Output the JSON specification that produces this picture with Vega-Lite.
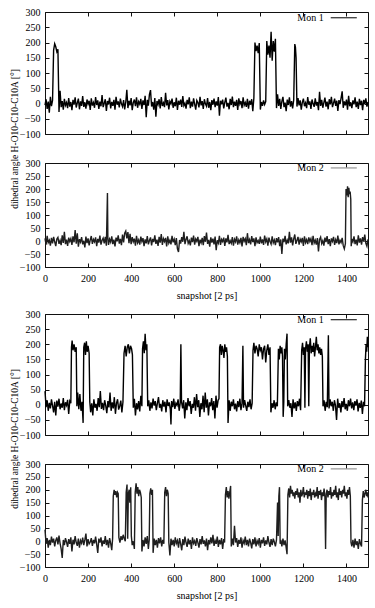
{
"$schema": "https://vega.github.io/schema/vega-lite/v6.json",
"padding": {"left": 8, "top": 6, "right": 2, "bottom": 2},
"background": "white",
"config": {
  "view": {"stroke": "#111", "strokeWidth": 1},
  "axis": {"domain": false, "grid": false, "tickColor": "#111", "tickSize": -4, "labelFont": "Liberation Serif", "labelFontSize": 10, "labelColor": "#000", "labelFlush": false, "format": "d", "titleFont": "Liberation Serif", "titleFontSize": 10, "titleFontWeight": "normal", "titleColor": "#000", "titleLimit": 400},
  "axisX": {"labelPadding": 10, "titlePadding": 7},
  "axisY": {"labelPadding": 9}
},
"datasets": {
"m1a": [{"x":0,"y":-5},{"x":5,"y":14},{"x":10,"y":-18},{"x":15,"y":6},{"x":20,"y":-30},{"x":25,"y":22},{"x":30,"y":-9},{"x":35,"y":10},{"x":40,"y":175},{"x":45,"y":196},{"x":50,"y":186},{"x":55,"y":170},{"x":60,"y":178},{"x":65,"y":-28},{"x":70,"y":42},{"x":75,"y":-12},{"x":80,"y":8},{"x":85,"y":-20},{"x":90,"y":15},{"x":95,"y":-6},{"x":100,"y":3},{"x":105,"y":-15},{"x":110,"y":18},{"x":115,"y":-10},{"x":120,"y":5},{"x":125,"y":-22},{"x":130,"y":12},{"x":135,"y":-4},{"x":140,"y":20},{"x":145,"y":-13},{"x":150,"y":2},{"x":155,"y":16},{"x":160,"y":-19},{"x":165,"y":7},{"x":170,"y":-8},{"x":175,"y":24},{"x":180,"y":-11},{"x":185,"y":4},{"x":190,"y":-17},{"x":195,"y":13},{"x":200,"y":-2},{"x":205,"y":9},{"x":210,"y":-21},{"x":215,"y":17},{"x":220,"y":-7},{"x":225,"y":3},{"x":230,"y":-14},{"x":235,"y":21},{"x":240,"y":-5},{"x":245,"y":10},{"x":250,"y":-18},{"x":255,"y":6},{"x":260,"y":-9},{"x":265,"y":28},{"x":270,"y":-12},{"x":275,"y":1},{"x":280,"y":14},{"x":285,"y":-24},{"x":290,"y":8},{"x":295,"y":-3},{"x":300,"y":19},{"x":305,"y":-16},{"x":310,"y":5},{"x":315,"y":-8},{"x":320,"y":12},{"x":325,"y":-20},{"x":330,"y":22},{"x":335,"y":-4},{"x":340,"y":7},{"x":345,"y":-13},{"x":350,"y":16},{"x":355,"y":-1},{"x":360,"y":-10},{"x":365,"y":11},{"x":370,"y":-19},{"x":375,"y":4},{"x":380,"y":45},{"x":385,"y":-15},{"x":390,"y":9},{"x":395,"y":-6},{"x":400,"y":18},{"x":405,"y":-22},{"x":410,"y":3},{"x":415,"y":13},{"x":420,"y":-9},{"x":425,"y":20},{"x":430,"y":-14},{"x":435,"y":6},{"x":440,"y":-2},{"x":445,"y":15},{"x":450,"y":-18},{"x":455,"y":10},{"x":460,"y":-5},{"x":465,"y":25},{"x":470,"y":-45},{"x":475,"y":12},{"x":480,"y":-7},{"x":485,"y":30},{"x":490,"y":44},{"x":495,"y":-10},{"x":500,"y":5},{"x":505,"y":-20},{"x":510,"y":18},{"x":515,"y":-43},{"x":520,"y":8},{"x":525,"y":-3},{"x":530,"y":14},{"x":535,"y":-16},{"x":540,"y":21},{"x":545,"y":-8},{"x":550,"y":2},{"x":555,"y":-12},{"x":560,"y":35},{"x":565,"y":-6},{"x":570,"y":11},{"x":575,"y":-19},{"x":580,"y":7},{"x":585,"y":-1},{"x":590,"y":16},{"x":595,"y":-14},{"x":600,"y":4},{"x":605,"y":-9},{"x":610,"y":19},{"x":615,"y":-21},{"x":620,"y":9},{"x":625,"y":-4},{"x":630,"y":13},{"x":635,"y":-11},{"x":640,"y":24},{"x":645,"y":-7},{"x":650,"y":1},{"x":655,"y":-17},{"x":660,"y":12},{"x":665,"y":-3},{"x":670,"y":20},{"x":675,"y":-15},{"x":680,"y":6},{"x":685,"y":-10},{"x":690,"y":17},{"x":695,"y":-2},{"x":700,"y":-20},{"x":705,"y":10},{"x":710,"y":3},{"x":715,"y":-13},{"x":720,"y":22},{"x":725,"y":-6},{"x":730,"y":8},{"x":735,"y":-18},{"x":740,"y":14},{"x":745,"y":-1},{"x":750,"y":-9},{"x":755,"y":18},{"x":760,"y":-14},{"x":765,"y":5},{"x":770,"y":-22},{"x":775,"y":11},{"x":780,"y":-4},{"x":785,"y":16},{"x":790,"y":-12},{"x":795,"y":7},{"x":800,"y":-7},{"x":805,"y":21},{"x":810,"y":-40},{"x":815,"y":9},{"x":820,"y":-3},{"x":825,"y":13},{"x":830,"y":-16},{"x":835,"y":4},{"x":840,"y":19},{"x":845,"y":-10},{"x":850,"y":2},{"x":855,"y":-19},{"x":860,"y":15},{"x":865,"y":-5},{"x":870,"y":23},{"x":875,"y":-12},{"x":880,"y":6},{"x":885,"y":-8},{"x":890,"y":12},{"x":895,"y":-21},{"x":900,"y":17},{"x":905,"y":-2},{"x":910,"y":8},{"x":915,"y":-15},{"x":920,"y":20},{"x":925,"y":-6},{"x":930,"y":3},{"x":935,"y":-11},{"x":940,"y":15},{"x":945,"y":-17},{"x":950,"y":9},{"x":955,"y":-4},{"x":960,"y":14},{"x":965,"y":-25},{"x":970,"y":18},{"x":975,"y":200},{"x":980,"y":172},{"x":985,"y":190},{"x":990,"y":165},{"x":995,"y":198},{"x":1000,"y":-20},{"x":1005,"y":5},{"x":1010,"y":-8},{"x":1015,"y":10},{"x":1020,"y":-3},{"x":1025,"y":6},{"x":1030,"y":205},{"x":1035,"y":160},{"x":1040,"y":190},{"x":1045,"y":150},{"x":1050,"y":235},{"x":1055,"y":140},{"x":1060,"y":205},{"x":1065,"y":170},{"x":1070,"y":212},{"x":1075,"y":-15},{"x":1080,"y":30},{"x":1085,"y":-8},{"x":1090,"y":15},{"x":1095,"y":-18},{"x":1100,"y":7},{"x":1105,"y":22},{"x":1110,"y":-12},{"x":1115,"y":3},{"x":1120,"y":-25},{"x":1125,"y":13},{"x":1130,"y":-5},{"x":1135,"y":20},{"x":1140,"y":-10},{"x":1145,"y":8},{"x":1150,"y":-16},{"x":1155,"y":12},{"x":1160,"y":195},{"x":1163,"y":185},{"x":1166,"y":150},{"x":1170,"y":-10},{"x":1175,"y":18},{"x":1180,"y":-6},{"x":1185,"y":10},{"x":1190,"y":-20},{"x":1195,"y":4},{"x":1200,"y":16},{"x":1205,"y":-9},{"x":1210,"y":2},{"x":1215,"y":-15},{"x":1220,"y":21},{"x":1225,"y":-4},{"x":1230,"y":7},{"x":1235,"y":-18},{"x":1240,"y":13},{"x":1245,"y":-1},{"x":1250,"y":-11},{"x":1255,"y":17},{"x":1260,"y":-7},{"x":1265,"y":5},{"x":1270,"y":-22},{"x":1275,"y":38},{"x":1280,"y":-8},{"x":1285,"y":12},{"x":1290,"y":-14},{"x":1295,"y":3},{"x":1300,"y":19},{"x":1305,"y":-10},{"x":1310,"y":6},{"x":1315,"y":-19},{"x":1320,"y":14},{"x":1325,"y":-3},{"x":1330,"y":22},{"x":1335,"y":-12},{"x":1340,"y":1},{"x":1345,"y":16},{"x":1350,"y":-8},{"x":1355,"y":9},{"x":1360,"y":-24},{"x":1365,"y":11},{"x":1370,"y":-2},{"x":1375,"y":18},{"x":1380,"y":40},{"x":1385,"y":-14},{"x":1390,"y":7},{"x":1395,"y":-6},{"x":1400,"y":13},{"x":1405,"y":-20},{"x":1410,"y":25},{"x":1415,"y":-9},{"x":1420,"y":4},{"x":1425,"y":-15},{"x":1430,"y":10},{"x":1435,"y":-3},{"x":1440,"y":20},{"x":1445,"y":-12},{"x":1450,"y":6},{"x":1455,"y":-18},{"x":1460,"y":15},{"x":1465,"y":-5},{"x":1470,"y":9},{"x":1475,"y":-22},{"x":1480,"y":12},{"x":1485,"y":-1},{"x":1490,"y":17},{"x":1495,"y":-10},{"x":1500,"y":5}],
"m2a": [{"x":0,"y":10},{"x":5,"y":-14},{"x":10,"y":20},{"x":15,"y":-6},{"x":20,"y":3},{"x":25,"y":-18},{"x":30,"y":12},{"x":35,"y":-9},{"x":40,"y":16},{"x":45,"y":-3},{"x":50,"y":-20},{"x":55,"y":8},{"x":60,"y":14},{"x":65,"y":-11},{"x":70,"y":2},{"x":75,"y":-16},{"x":80,"y":22},{"x":85,"y":-7},{"x":90,"y":35},{"x":95,"y":-12},{"x":100,"y":5},{"x":105,"y":-19},{"x":110,"y":13},{"x":115,"y":-2},{"x":120,"y":9},{"x":125,"y":-15},{"x":130,"y":18},{"x":135,"y":-5},{"x":140,"y":42},{"x":145,"y":-10},{"x":150,"y":30},{"x":155,"y":-22},{"x":160,"y":7},{"x":165,"y":-4},{"x":170,"y":15},{"x":175,"y":-13},{"x":180,"y":1},{"x":185,"y":-25},{"x":190,"y":17},{"x":195,"y":-8},{"x":200,"y":10},{"x":205,"y":-17},{"x":210,"y":4},{"x":215,"y":19},{"x":220,"y":-11},{"x":225,"y":6},{"x":230,"y":-3},{"x":235,"y":14},{"x":240,"y":-20},{"x":245,"y":8},{"x":250,"y":-6},{"x":255,"y":21},{"x":260,"y":-14},{"x":265,"y":3},{"x":270,"y":11},{"x":275,"y":-9},{"x":280,"y":16},{"x":285,"y":-18},{"x":290,"y":185},{"x":292,"y":10},{"x":295,"y":-15},{"x":300,"y":7},{"x":305,"y":-4},{"x":310,"y":18},{"x":315,"y":-12},{"x":320,"y":5},{"x":325,"y":-21},{"x":330,"y":13},{"x":335,"y":-1},{"x":340,"y":22},{"x":345,"y":-10},{"x":350,"y":8},{"x":355,"y":-16},{"x":360,"y":25},{"x":365,"y":-5},{"x":370,"y":30},{"x":375,"y":38},{"x":380,"y":10},{"x":385,"y":34},{"x":390,"y":-8},{"x":395,"y":28},{"x":400,"y":-12},{"x":405,"y":15},{"x":410,"y":-3},{"x":415,"y":9},{"x":420,"y":-18},{"x":425,"y":20},{"x":430,"y":-7},{"x":435,"y":4},{"x":440,"y":-14},{"x":445,"y":17},{"x":450,"y":-2},{"x":455,"y":11},{"x":460,"y":-20},{"x":465,"y":6},{"x":470,"y":-9},{"x":475,"y":19},{"x":480,"y":-13},{"x":485,"y":2},{"x":490,"y":14},{"x":495,"y":-17},{"x":500,"y":8},{"x":505,"y":-4},{"x":510,"y":22},{"x":515,"y":-11},{"x":520,"y":5},{"x":525,"y":-19},{"x":530,"y":16},{"x":535,"y":-6},{"x":540,"y":27},{"x":545,"y":-15},{"x":550,"y":9},{"x":555,"y":-2},{"x":560,"y":12},{"x":565,"y":-21},{"x":570,"y":18},{"x":575,"y":-8},{"x":580,"y":3},{"x":585,"y":-13},{"x":590,"y":20},{"x":595,"y":-5},{"x":600,"y":7},{"x":605,"y":-16},{"x":610,"y":11},{"x":615,"y":-30},{"x":620,"y":-42},{"x":625,"y":4},{"x":630,"y":-10},{"x":635,"y":15},{"x":640,"y":-3},{"x":645,"y":35},{"x":650,"y":-12},{"x":655,"y":6},{"x":660,"y":18},{"x":665,"y":-9},{"x":670,"y":1},{"x":675,"y":-17},{"x":680,"y":13},{"x":685,"y":-4},{"x":690,"y":21},{"x":695,"y":-14},{"x":700,"y":8},{"x":705,"y":-1},{"x":710,"y":16},{"x":715,"y":-20},{"x":720,"y":5},{"x":725,"y":-7},{"x":730,"y":12},{"x":735,"y":-16},{"x":740,"y":19},{"x":745,"y":-3},{"x":750,"y":32},{"x":755,"y":-11},{"x":760,"y":4},{"x":765,"y":-22},{"x":770,"y":14},{"x":775,"y":-6},{"x":780,"y":9},{"x":785,"y":-13},{"x":790,"y":17},{"x":795,"y":-35},{"x":800,"y":3},{"x":805,"y":-8},{"x":810,"y":20},{"x":815,"y":-15},{"x":820,"y":6},{"x":825,"y":-2},{"x":830,"y":13},{"x":835,"y":-19},{"x":840,"y":10},{"x":845,"y":-5},{"x":850,"y":24},{"x":855,"y":-12},{"x":860,"y":1},{"x":865,"y":-9},{"x":870,"y":15},{"x":875,"y":-18},{"x":880,"y":7},{"x":885,"y":-3},{"x":890,"y":18},{"x":895,"y":-14},{"x":900,"y":4},{"x":905,"y":-7},{"x":910,"y":12},{"x":915,"y":-21},{"x":920,"y":16},{"x":925,"y":-1},{"x":930,"y":9},{"x":935,"y":-16},{"x":940,"y":30},{"x":945,"y":-8},{"x":950,"y":5},{"x":955,"y":-13},{"x":960,"y":19},{"x":965,"y":-4},{"x":970,"y":10},{"x":975,"y":-20},{"x":980,"y":14},{"x":985,"y":-6},{"x":990,"y":2},{"x":995,"y":-11},{"x":1000,"y":17},{"x":1005,"y":-9},{"x":1010,"y":6},{"x":1015,"y":-15},{"x":1020,"y":21},{"x":1025,"y":-3},{"x":1030,"y":8},{"x":1035,"y":-18},{"x":1040,"y":13},{"x":1045,"y":-2},{"x":1050,"y":-12},{"x":1055,"y":18},{"x":1060,"y":-7},{"x":1065,"y":4},{"x":1070,"y":-16},{"x":1075,"y":11},{"x":1080,"y":-5},{"x":1085,"y":15},{"x":1090,"y":-20},{"x":1095,"y":6},{"x":1100,"y":-50},{"x":1105,"y":9},{"x":1110,"y":-4},{"x":1115,"y":20},{"x":1120,"y":-13},{"x":1125,"y":3},{"x":1130,"y":-9},{"x":1135,"y":35},{"x":1140,"y":-6},{"x":1145,"y":14},{"x":1150,"y":-17},{"x":1155,"y":8},{"x":1160,"y":25},{"x":1165,"y":-11},{"x":1170,"y":2},{"x":1175,"y":16},{"x":1180,"y":-14},{"x":1185,"y":7},{"x":1190,"y":-3},{"x":1195,"y":12},{"x":1200,"y":-19},{"x":1205,"y":18},{"x":1210,"y":-6},{"x":1215,"y":5},{"x":1220,"y":-12},{"x":1225,"y":14},{"x":1230,"y":-2},{"x":1235,"y":9},{"x":1240,"y":-16},{"x":1245,"y":20},{"x":1250,"y":-8},{"x":1255,"y":3},{"x":1260,"y":-14},{"x":1265,"y":11},{"x":1270,"y":-40},{"x":1275,"y":6},{"x":1280,"y":15},{"x":1285,"y":-10},{"x":1290,"y":1},{"x":1295,"y":-18},{"x":1300,"y":13},{"x":1305,"y":-4},{"x":1310,"y":19},{"x":1315,"y":-12},{"x":1320,"y":7},{"x":1325,"y":-20},{"x":1330,"y":10},{"x":1335,"y":-1},{"x":1340,"y":16},{"x":1345,"y":-15},{"x":1350,"y":5},{"x":1355,"y":-8},{"x":1360,"y":21},{"x":1365,"y":-13},{"x":1370,"y":3},{"x":1375,"y":-6},{"x":1380,"y":12},{"x":1385,"y":-18},{"x":1390,"y":-30},{"x":1395,"y":-10},{"x":1398,"y":200},{"x":1402,"y":175},{"x":1405,"y":210},{"x":1408,"y":168},{"x":1411,"y":205},{"x":1414,"y":180},{"x":1417,"y":190},{"x":1420,"y":160},{"x":1422,"y":-20},{"x":1425,"y":8},{"x":1430,"y":-3},{"x":1435,"y":18},{"x":1440,"y":-12},{"x":1445,"y":5},{"x":1450,"y":-17},{"x":1455,"y":22},{"x":1460,"y":-6},{"x":1465,"y":10},{"x":1470,"y":-14},{"x":1475,"y":15},{"x":1480,"y":-2},{"x":1485,"y":25},{"x":1490,"y":-9},{"x":1495,"y":-20},{"x":1500,"y":6}],
"m1b": [{"x":0,"y":45},{"x":5,"y":-8},{"x":10,"y":15},{"x":15,"y":-20},{"x":20,"y":6},{"x":25,"y":-12},{"x":30,"y":18},{"x":35,"y":-3},{"x":40,"y":-25},{"x":45,"y":10},{"x":50,"y":-35},{"x":55,"y":14},{"x":60,"y":-6},{"x":65,"y":20},{"x":70,"y":-15},{"x":75,"y":4},{"x":80,"y":-10},{"x":85,"y":22},{"x":90,"y":-18},{"x":95,"y":8},{"x":100,"y":-2},{"x":105,"y":16},{"x":110,"y":-30},{"x":115,"y":12},{"x":120,"y":5},{"x":123,"y":190},{"x":126,"y":212},{"x":130,"y":180},{"x":135,"y":200},{"x":140,"y":175},{"x":145,"y":190},{"x":148,"y":-5},{"x":152,"y":40},{"x":157,"y":-15},{"x":162,"y":35},{"x":167,"y":-20},{"x":172,"y":10},{"x":177,"y":-60},{"x":180,"y":190},{"x":184,"y":205},{"x":188,"y":165},{"x":192,"y":210},{"x":196,"y":175},{"x":200,"y":195},{"x":205,"y":170},{"x":208,"y":10},{"x":212,"y":-25},{"x":217,"y":5},{"x":222,"y":-35},{"x":227,"y":18},{"x":232,"y":-10},{"x":237,"y":3},{"x":242,"y":-20},{"x":247,"y":22},{"x":252,"y":-8},{"x":257,"y":45},{"x":262,"y":-14},{"x":267,"y":6},{"x":272,"y":-18},{"x":277,"y":15},{"x":282,"y":-3},{"x":287,"y":-28},{"x":292,"y":12},{"x":297,"y":-9},{"x":302,"y":40},{"x":307,"y":-20},{"x":312,"y":8},{"x":317,"y":-12},{"x":322,"y":25},{"x":327,"y":-30},{"x":332,"y":5},{"x":337,"y":18},{"x":342,"y":-16},{"x":347,"y":-4},{"x":352,"y":14},{"x":357,"y":-25},{"x":362,"y":9},{"x":367,"y":170},{"x":372,"y":195},{"x":377,"y":160},{"x":382,"y":190},{"x":387,"y":200},{"x":392,"y":170},{"x":397,"y":195},{"x":402,"y":185},{"x":406,"y":165},{"x":410,"y":-10},{"x":415,"y":20},{"x":420,"y":-35},{"x":425,"y":5},{"x":430,"y":-15},{"x":435,"y":12},{"x":440,"y":-22},{"x":445,"y":30},{"x":450,"y":-5},{"x":453,"y":185},{"x":457,"y":210},{"x":461,"y":170},{"x":465,"y":235},{"x":469,"y":180},{"x":473,"y":200},{"x":477,"y":-5},{"x":482,"y":15},{"x":487,"y":-20},{"x":492,"y":8},{"x":497,"y":-12},{"x":502,"y":20},{"x":507,"y":-3},{"x":512,"y":12},{"x":517,"y":-18},{"x":522,"y":5},{"x":527,"y":25},{"x":532,"y":-10},{"x":537,"y":3},{"x":542,"y":-22},{"x":547,"y":15},{"x":552,"y":-6},{"x":557,"y":10},{"x":562,"y":-25},{"x":567,"y":18},{"x":572,"y":-4},{"x":577,"y":8},{"x":582,"y":-15},{"x":585,"y":-65},{"x":588,"y":12},{"x":593,"y":-8},{"x":598,"y":20},{"x":603,"y":-14},{"x":608,"y":5},{"x":613,"y":-2},{"x":618,"y":18},{"x":623,"y":-20},{"x":628,"y":6},{"x":631,"y":200},{"x":634,"y":10},{"x":639,"y":-12},{"x":644,"y":15},{"x":649,"y":-45},{"x":654,"y":8},{"x":659,"y":-18},{"x":664,"y":22},{"x":669,"y":-5},{"x":674,"y":12},{"x":679,"y":-30},{"x":684,"y":3},{"x":689,"y":-10},{"x":694,"y":25},{"x":699,"y":-20},{"x":704,"y":35},{"x":709,"y":-8},{"x":714,"y":15},{"x":719,"y":-40},{"x":724,"y":5},{"x":729,"y":-15},{"x":734,"y":30},{"x":739,"y":-25},{"x":744,"y":40},{"x":749,"y":-10},{"x":754,"y":18},{"x":759,"y":-35},{"x":764,"y":8},{"x":769,"y":-5},{"x":774,"y":22},{"x":779,"y":-18},{"x":784,"y":12},{"x":789,"y":-45},{"x":794,"y":30},{"x":799,"y":-10},{"x":804,"y":15},{"x":808,"y":20},{"x":811,"y":190},{"x":815,"y":200},{"x":819,"y":165},{"x":823,"y":195},{"x":827,"y":180},{"x":831,"y":155},{"x":835,"y":200},{"x":839,"y":175},{"x":843,"y":190},{"x":847,"y":160},{"x":850,"y":-60},{"x":855,"y":15},{"x":860,"y":-20},{"x":865,"y":10},{"x":870,"y":-5},{"x":875,"y":18},{"x":880,"y":-15},{"x":885,"y":4},{"x":890,"y":-22},{"x":895,"y":12},{"x":900,"y":-8},{"x":905,"y":20},{"x":910,"y":-18},{"x":915,"y":5},{"x":919,"y":195},{"x":922,"y":-10},{"x":927,"y":15},{"x":932,"y":-3},{"x":937,"y":-20},{"x":942,"y":10},{"x":947,"y":-8},{"x":952,"y":18},{"x":957,"y":-15},{"x":962,"y":5},{"x":966,"y":180},{"x":970,"y":205},{"x":975,"y":170},{"x":980,"y":195},{"x":985,"y":185},{"x":990,"y":160},{"x":995,"y":200},{"x":1000,"y":180},{"x":1005,"y":190},{"x":1010,"y":150},{"x":1015,"y":185},{"x":1020,"y":195},{"x":1025,"y":140},{"x":1030,"y":180},{"x":1035,"y":200},{"x":1040,"y":165},{"x":1045,"y":190},{"x":1049,"y":-25},{"x":1054,"y":5},{"x":1059,"y":-10},{"x":1064,"y":15},{"x":1069,"y":-15},{"x":1074,"y":8},{"x":1079,"y":-5},{"x":1084,"y":185},{"x":1088,"y":150},{"x":1092,"y":195},{"x":1096,"y":170},{"x":1100,"y":190},{"x":1103,"y":160},{"x":1106,"y":-40},{"x":1109,"y":10},{"x":1112,"y":185},{"x":1116,"y":150},{"x":1120,"y":200},{"x":1124,"y":235},{"x":1127,"y":-5},{"x":1132,"y":15},{"x":1137,"y":-10},{"x":1142,"y":5},{"x":1147,"y":-40},{"x":1152,"y":18},{"x":1157,"y":-12},{"x":1162,"y":8},{"x":1167,"y":-20},{"x":1172,"y":12},{"x":1177,"y":-5},{"x":1182,"y":20},{"x":1187,"y":-18},{"x":1192,"y":180},{"x":1196,"y":205},{"x":1200,"y":165},{"x":1204,"y":190},{"x":1207,"y":-10},{"x":1210,"y":185},{"x":1214,"y":210},{"x":1218,"y":175},{"x":1222,"y":200},{"x":1225,"y":-5},{"x":1228,"y":190},{"x":1232,"y":220},{"x":1236,"y":170},{"x":1240,"y":195},{"x":1244,"y":175},{"x":1248,"y":205},{"x":1252,"y":160},{"x":1256,"y":190},{"x":1260,"y":225},{"x":1264,"y":180},{"x":1268,"y":200},{"x":1272,"y":170},{"x":1276,"y":190},{"x":1280,"y":165},{"x":1284,"y":185},{"x":1288,"y":160},{"x":1291,"y":-5},{"x":1296,"y":15},{"x":1301,"y":-20},{"x":1306,"y":10},{"x":1311,"y":-8},{"x":1316,"y":230},{"x":1319,"y":-12},{"x":1324,"y":18},{"x":1329,"y":-5},{"x":1334,"y":10},{"x":1339,"y":-20},{"x":1344,"y":15},{"x":1349,"y":-3},{"x":1354,"y":-50},{"x":1359,"y":20},{"x":1364,"y":-10},{"x":1369,"y":5},{"x":1374,"y":-25},{"x":1379,"y":12},{"x":1384,"y":-8},{"x":1389,"y":22},{"x":1394,"y":-15},{"x":1399,"y":3},{"x":1404,"y":-20},{"x":1409,"y":15},{"x":1414,"y":-5},{"x":1419,"y":20},{"x":1424,"y":-12},{"x":1429,"y":8},{"x":1434,"y":-18},{"x":1439,"y":12},{"x":1444,"y":-3},{"x":1449,"y":18},{"x":1454,"y":-22},{"x":1459,"y":6},{"x":1464,"y":-10},{"x":1469,"y":14},{"x":1474,"y":-30},{"x":1479,"y":10},{"x":1484,"y":-5},{"x":1488,"y":150},{"x":1491,"y":200},{"x":1494,"y":175},{"x":1497,"y":225},{"x":1500,"y":190}],
"m2b": [{"x":0,"y":45},{"x":5,"y":-10},{"x":10,"y":12},{"x":15,"y":-25},{"x":20,"y":5},{"x":25,"y":-15},{"x":30,"y":18},{"x":35,"y":-5},{"x":40,"y":10},{"x":45,"y":-20},{"x":50,"y":3},{"x":55,"y":15},{"x":60,"y":-12},{"x":65,"y":22},{"x":70,"y":-8},{"x":75,"y":-30},{"x":80,"y":-65},{"x":85,"y":5},{"x":90,"y":-15},{"x":95,"y":12},{"x":100,"y":-3},{"x":105,"y":-22},{"x":110,"y":8},{"x":115,"y":-10},{"x":120,"y":15},{"x":125,"y":-40},{"x":130,"y":6},{"x":135,"y":-12},{"x":140,"y":20},{"x":145,"y":-5},{"x":150,"y":-18},{"x":155,"y":10},{"x":160,"y":-25},{"x":165,"y":3},{"x":170,"y":-8},{"x":175,"y":14},{"x":180,"y":-15},{"x":185,"y":5},{"x":190,"y":30},{"x":195,"y":-20},{"x":200,"y":8},{"x":205,"y":-10},{"x":210,"y":-3},{"x":215,"y":12},{"x":220,"y":-18},{"x":225,"y":5},{"x":230,"y":-8},{"x":235,"y":18},{"x":240,"y":-12},{"x":245,"y":-45},{"x":250,"y":10},{"x":255,"y":-5},{"x":260,"y":15},{"x":265,"y":-20},{"x":270,"y":3},{"x":275,"y":-10},{"x":280,"y":20},{"x":285,"y":-15},{"x":290,"y":5},{"x":295,"y":-25},{"x":300,"y":12},{"x":305,"y":-8},{"x":310,"y":-35},{"x":314,"y":10},{"x":317,"y":175},{"x":321,"y":200},{"x":325,"y":180},{"x":329,"y":195},{"x":333,"y":170},{"x":337,"y":190},{"x":340,"y":185},{"x":343,"y":15},{"x":348,"y":-5},{"x":353,"y":20},{"x":358,"y":5},{"x":363,"y":25},{"x":368,"y":10},{"x":373,"y":0},{"x":377,"y":190},{"x":381,"y":220},{"x":384,"y":10},{"x":387,"y":185},{"x":391,"y":200},{"x":394,"y":150},{"x":398,"y":210},{"x":401,"y":20},{"x":405,"y":-15},{"x":410,"y":0},{"x":415,"y":-30},{"x":419,"y":190},{"x":423,"y":225},{"x":427,"y":185},{"x":431,"y":210},{"x":435,"y":175},{"x":439,"y":200},{"x":443,"y":190},{"x":447,"y":170},{"x":450,"y":-40},{"x":455,"y":5},{"x":460,"y":-20},{"x":465,"y":15},{"x":470,"y":-10},{"x":475,"y":20},{"x":480,"y":-30},{"x":484,"y":5},{"x":487,"y":185},{"x":491,"y":205},{"x":495,"y":180},{"x":499,"y":200},{"x":502,"y":-45},{"x":507,"y":10},{"x":512,"y":-15},{"x":517,"y":5},{"x":522,"y":-25},{"x":527,"y":12},{"x":532,"y":-8},{"x":537,"y":15},{"x":542,"y":-20},{"x":547,"y":5},{"x":552,"y":-10},{"x":556,"y":190},{"x":560,"y":210},{"x":564,"y":175},{"x":568,"y":200},{"x":572,"y":185},{"x":575,"y":-5},{"x":580,"y":-55},{"x":585,"y":10},{"x":590,"y":-15},{"x":595,"y":5},{"x":600,"y":-20},{"x":605,"y":15},{"x":610,"y":-8},{"x":615,"y":3},{"x":620,"y":-25},{"x":625,"y":12},{"x":630,"y":-10},{"x":635,"y":-35},{"x":640,"y":8},{"x":645,"y":-15},{"x":650,"y":18},{"x":655,"y":-5},{"x":660,"y":-22},{"x":665,"y":10},{"x":670,"y":-12},{"x":675,"y":5},{"x":680,"y":-30},{"x":685,"y":15},{"x":690,"y":-8},{"x":695,"y":2},{"x":700,"y":-18},{"x":705,"y":12},{"x":710,"y":-5},{"x":715,"y":-25},{"x":720,"y":8},{"x":725,"y":-12},{"x":730,"y":20},{"x":735,"y":-10},{"x":740,"y":3},{"x":745,"y":-20},{"x":750,"y":10},{"x":755,"y":-35},{"x":760,"y":5},{"x":765,"y":-12},{"x":770,"y":15},{"x":775,"y":-8},{"x":780,"y":25},{"x":785,"y":-18},{"x":790,"y":2},{"x":795,"y":-10},{"x":800,"y":18},{"x":805,"y":-22},{"x":810,"y":5},{"x":815,"y":-12},{"x":820,"y":12},{"x":825,"y":-30},{"x":830,"y":8},{"x":834,"y":-5},{"x":838,"y":180},{"x":842,"y":210},{"x":846,"y":170},{"x":850,"y":195},{"x":854,"y":165},{"x":858,"y":190},{"x":862,"y":215},{"x":865,"y":-20},{"x":870,"y":10},{"x":875,"y":-15},{"x":880,"y":60},{"x":885,"y":-5},{"x":890,"y":12},{"x":895,"y":-22},{"x":900,"y":5},{"x":905,"y":-10},{"x":910,"y":15},{"x":915,"y":-25},{"x":920,"y":3},{"x":925,"y":-8},{"x":930,"y":18},{"x":935,"y":-15},{"x":940,"y":5},{"x":945,"y":-20},{"x":950,"y":10},{"x":955,"y":-5},{"x":960,"y":-28},{"x":965,"y":8},{"x":970,"y":-12},{"x":975,"y":15},{"x":980,"y":-20},{"x":985,"y":2},{"x":990,"y":-10},{"x":995,"y":12},{"x":1000,"y":-25},{"x":1005,"y":5},{"x":1010,"y":-8},{"x":1015,"y":15},{"x":1020,"y":-18},{"x":1025,"y":3},{"x":1030,"y":-12},{"x":1035,"y":20},{"x":1040,"y":-5},{"x":1045,"y":-22},{"x":1050,"y":8},{"x":1055,"y":-15},{"x":1060,"y":10},{"x":1065,"y":-3},{"x":1070,"y":-20},{"x":1075,"y":5},{"x":1080,"y":150},{"x":1083,"y":20},{"x":1086,"y":175},{"x":1089,"y":210},{"x":1092,"y":-10},{"x":1095,"y":5},{"x":1100,"y":-20},{"x":1105,"y":10},{"x":1110,"y":-15},{"x":1115,"y":3},{"x":1120,"y":-25},{"x":1124,"y":-50},{"x":1128,"y":180},{"x":1132,"y":205},{"x":1136,"y":170},{"x":1140,"y":215},{"x":1144,"y":185},{"x":1148,"y":200},{"x":1152,"y":175},{"x":1156,"y":190},{"x":1160,"y":165},{"x":1164,"y":195},{"x":1168,"y":180},{"x":1172,"y":205},{"x":1176,"y":170},{"x":1180,"y":190},{"x":1184,"y":150},{"x":1188,"y":200},{"x":1192,"y":175},{"x":1196,"y":185},{"x":1200,"y":210},{"x":1204,"y":170},{"x":1208,"y":190},{"x":1212,"y":180},{"x":1216,"y":200},{"x":1220,"y":165},{"x":1224,"y":195},{"x":1228,"y":175},{"x":1232,"y":205},{"x":1236,"y":160},{"x":1240,"y":190},{"x":1244,"y":180},{"x":1248,"y":200},{"x":1252,"y":170},{"x":1256,"y":185},{"x":1260,"y":175},{"x":1264,"y":210},{"x":1268,"y":165},{"x":1272,"y":195},{"x":1276,"y":180},{"x":1280,"y":200},{"x":1284,"y":160},{"x":1288,"y":190},{"x":1292,"y":175},{"x":1296,"y":205},{"x":1300,"y":170},{"x":1303,"y":-30},{"x":1306,"y":185},{"x":1310,"y":200},{"x":1314,"y":170},{"x":1318,"y":195},{"x":1322,"y":180},{"x":1326,"y":210},{"x":1330,"y":165},{"x":1334,"y":190},{"x":1338,"y":175},{"x":1342,"y":200},{"x":1346,"y":180},{"x":1350,"y":215},{"x":1354,"y":170},{"x":1358,"y":190},{"x":1362,"y":160},{"x":1366,"y":205},{"x":1370,"y":180},{"x":1374,"y":195},{"x":1378,"y":170},{"x":1382,"y":200},{"x":1386,"y":185},{"x":1390,"y":215},{"x":1394,"y":175},{"x":1398,"y":190},{"x":1402,"y":165},{"x":1406,"y":200},{"x":1410,"y":180},{"x":1414,"y":210},{"x":1418,"y":175},{"x":1421,"y":-5},{"x":1425,"y":-20},{"x":1430,"y":5},{"x":1435,"y":-25},{"x":1440,"y":10},{"x":1445,"y":-15},{"x":1450,"y":0},{"x":1455,"y":-30},{"x":1460,"y":8},{"x":1465,"y":-10},{"x":1470,"y":-20},{"x":1474,"y":160},{"x":1478,"y":195},{"x":1482,"y":170},{"x":1486,"y":185},{"x":1490,"y":200},{"x":1494,"y":175},{"x":1498,"y":190},{"x":1500,"y":170}]
},
"vconcat": [
 {"bounds": "flush", "spacing": 29, "vconcat": [
  {"width": 323, "height": 122, "resolve": {"axis": {"x": "independent", "y": "independent"}},
   "layer": [
    {"data": {"name": "m1a"}, "mark": {"type": "line", "stroke": "#000", "strokeWidth": 1.4},
     "encoding": {"x": {"field": "x", "type": "quantitative", "scale": {"domain": [0, 1500], "nice": false}, "axis": {"values": [0,200,400,600,800,1000,1200,1400], "labels": false, "title": null}},
                  "y": {"field": "y", "type": "quantitative", "scale": {"domain": [-100, 300], "nice": false}, "axis": {"values": [-100,-50,0,50,100,150,200,250,300], "title": "dihedral angle H-O10-C10-C10A [°]", "titleFontSize": 9.5, "titleX": -31, "titleY": 126.5, "titleAngle": 270, "titleAlign": "center", "titleBaseline": "middle"}}}},
    {"data": {"values": [{}]}, "mark": {"type": "rule", "stroke": "#000", "strokeWidth": 1},
     "encoding": {"x": {"datum": 1327, "type": "quantitative", "scale": {"domain": [0, 1500], "nice": false}, "axis": {"orient": "top", "values": [0,200,400,600,800,1000,1200,1400], "labels": false, "title": null}},
                  "x2": {"datum": 1448},
                  "y": {"datum": 281, "type": "quantitative", "scale": {"domain": [-100, 300], "nice": false}, "axis": {"orient": "right", "values": [-100,-50,0,50,100,150,200,250,300], "labels": false, "title": null}}}},
    {"data": {"values": [{}]}, "mark": {"type": "text", "align": "right", "baseline": "middle", "font": "Liberation Serif", "fontSize": 10, "color": "#000", "text": "Mon 1"},
     "encoding": {"x": {"datum": 1294, "type": "quantitative", "axis": null}, "y": {"datum": 281, "type": "quantitative", "axis": null}}}
   ]},
  {"width": 323, "height": 104, "resolve": {"axis": {"x": "independent", "y": "independent"}},
   "layer": [
    {"data": {"name": "m2a"}, "mark": {"type": "line", "stroke": "#1e1e1e", "strokeWidth": 1.4},
     "encoding": {"x": {"field": "x", "type": "quantitative", "scale": {"domain": [0, 1500], "nice": false}, "axis": {"values": [0,200,400,600,800,1000,1200,1400], "title": "snapshot [2 ps]"}},
                  "y": {"field": "y", "type": "quantitative", "scale": {"domain": [-100, 300], "nice": false}, "axis": {"values": [-100,-50,0,50,100,150,200,250,300], "title": null}}}},
    {"data": {"values": [{}]}, "mark": {"type": "rule", "stroke": "#808080", "strokeWidth": 1},
     "encoding": {"x": {"datum": 1327, "type": "quantitative", "scale": {"domain": [0, 1500], "nice": false}, "axis": {"orient": "top", "values": [0,200,400,600,800,1000,1200,1400], "labels": false, "title": null}},
                  "x2": {"datum": 1448},
                  "y": {"datum": 281, "type": "quantitative", "scale": {"domain": [-100, 300], "nice": false}, "axis": {"orient": "right", "values": [-100,-50,0,50,100,150,200,250,300], "labels": false, "title": null}}}},
    {"data": {"values": [{}]}, "mark": {"type": "text", "align": "right", "baseline": "middle", "font": "Liberation Serif", "fontSize": 10, "color": "#000", "text": "Mon 2"},
     "encoding": {"x": {"datum": 1294, "type": "quantitative", "axis": null}, "y": {"datum": 281, "type": "quantitative", "axis": null}}}
   ]}
 ]},
 {"bounds": "flush", "spacing": 29, "vconcat": [
  {"width": 323, "height": 121, "resolve": {"axis": {"x": "independent", "y": "independent"}},
   "layer": [
    {"data": {"name": "m1b"}, "mark": {"type": "line", "stroke": "#000", "strokeWidth": 1.4},
     "encoding": {"x": {"field": "x", "type": "quantitative", "scale": {"domain": [0, 1500], "nice": false}, "axis": {"values": [0,200,400,600,800,1000,1200,1400], "labels": false, "title": null}},
                  "y": {"field": "y", "type": "quantitative", "scale": {"domain": [-100, 300], "nice": false}, "axis": {"values": [-100,-50,0,50,100,150,200,250,300], "title": "dihedral angle H-O10-C10-C10A [°]", "titleFontSize": 9.5, "titleX": -31, "titleY": 124.5, "titleAngle": 270, "titleAlign": "center", "titleBaseline": "middle"}}}},
    {"data": {"values": [{}]}, "mark": {"type": "rule", "stroke": "#000", "strokeWidth": 1},
     "encoding": {"x": {"datum": 1327, "type": "quantitative", "scale": {"domain": [0, 1500], "nice": false}, "axis": {"orient": "top", "values": [0,200,400,600,800,1000,1200,1400], "labels": false, "title": null}},
                  "x2": {"datum": 1448},
                  "y": {"datum": 281, "type": "quantitative", "scale": {"domain": [-100, 300], "nice": false}, "axis": {"orient": "right", "values": [-100,-50,0,50,100,150,200,250,300], "labels": false, "title": null}}}},
    {"data": {"values": [{}]}, "mark": {"type": "text", "align": "right", "baseline": "middle", "font": "Liberation Serif", "fontSize": 10, "color": "#000", "text": "Mon 1"},
     "encoding": {"x": {"datum": 1294, "type": "quantitative", "axis": null}, "y": {"datum": 281, "type": "quantitative", "axis": null}}}
   ]},
  {"width": 323, "height": 103, "resolve": {"axis": {"x": "independent", "y": "independent"}},
   "layer": [
    {"data": {"name": "m2b"}, "mark": {"type": "line", "stroke": "#1e1e1e", "strokeWidth": 1.4},
     "encoding": {"x": {"field": "x", "type": "quantitative", "scale": {"domain": [0, 1500], "nice": false}, "axis": {"values": [0,200,400,600,800,1000,1200,1400], "title": "snapshot [2 ps]"}},
                  "y": {"field": "y", "type": "quantitative", "scale": {"domain": [-100, 300], "nice": false}, "axis": {"values": [-100,-50,0,50,100,150,200,250,300], "title": null}}}},
    {"data": {"values": [{}]}, "mark": {"type": "rule", "stroke": "#808080", "strokeWidth": 1},
     "encoding": {"x": {"datum": 1327, "type": "quantitative", "scale": {"domain": [0, 1500], "nice": false}, "axis": {"orient": "top", "values": [0,200,400,600,800,1000,1200,1400], "labels": false, "title": null}},
                  "x2": {"datum": 1448},
                  "y": {"datum": 281, "type": "quantitative", "scale": {"domain": [-100, 300], "nice": false}, "axis": {"orient": "right", "values": [-100,-50,0,50,100,150,200,250,300], "labels": false, "title": null}}}},
    {"data": {"values": [{}]}, "mark": {"type": "text", "align": "right", "baseline": "middle", "font": "Liberation Serif", "fontSize": 10, "color": "#000", "text": "Mon 2"},
     "encoding": {"x": {"datum": 1294, "type": "quantitative", "axis": null}, "y": {"datum": 281, "type": "quantitative", "axis": null}}}
   ]}
 ]}
],
"spacing": 7
}
